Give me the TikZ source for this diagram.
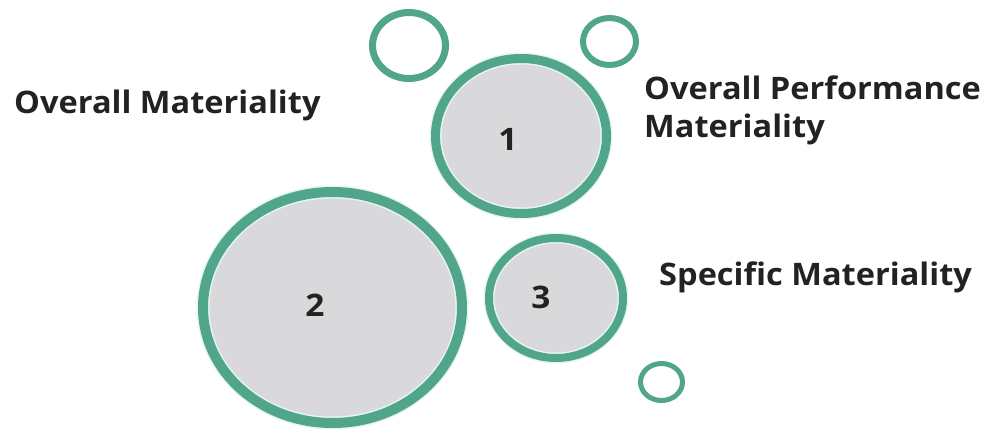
\documentclass[tikz,border=0pt]{standalone}
\usepackage{fontspec}
\setmainfont{Open Sans}
\usepackage{tikz}
\usetikzlibrary{shapes.geometric, positioning}

\definecolor{ringgreen}{RGB}{80,165,138}
\definecolor{ringhalo}{RGB}{228,246,241}
\definecolor{bubblegrey}{RGB}{217,217,219}
\definecolor{labelgrey}{RGB}{34,34,34}

\tikzset{
  ring/.style={ellipse, draw=ringgreen, inner sep=0pt, line width=#1},
  bubble/.style={ellipse, inner sep=0pt, fill=bubblegrey, draw=ringhalo,
    line width=#1+3pt, postaction={draw=ringgreen, line width=#1}},
  num/.style={font=\bfseries\fontsize{31}{31}\selectfont, text=labelgrey,
    inner sep=0pt, xscale=1.08, transform shape},
  caption/.style={font=\bfseries\fontsize{31}{31}\selectfont, text=labelgrey,
    anchor=base west, inner sep=0pt, xscale=1.05, transform shape}
}

\begin{document}
\begin{tikzpicture}[x=1pt,y=-1pt]
\useasboundingbox (0,0) rectangle (988,429);
% big bubbles
\node[bubble=9pt, minimum width=171pt, minimum height=155pt] (one) at (521,136) {};
\node[bubble=10pt, minimum width=259pt, minimum height=231pt] (two) at (332.5,307.5) {};
\node[bubble=8pt, minimum width=134pt, minimum height=120pt] (three) at (556,298) {};
% small empty rings
\node[ring=7pt, minimum width=73pt, minimum height=66pt] (dotA) at (409,45.5) {};
\node[ring=6pt, minimum width=53pt, minimum height=47pt] (dotB) at (609.5,41.5) {};
\node[ring=5pt, minimum width=42pt, minimum height=37pt] (dotC) at (661.5,382) {};
% numbers
\node[num] (n1) at (508,139) {1};
\node[num] (n2) at (315,305) {2};
\node[num] (n3) at (541,297) {3};
% labels
\node[caption] (overall) at (14,113) {Overall Materiality};
\node[caption] (perf) at (644,99) {Overall Performance};
\node[caption] (perf2) at (644,137) {Materiality};
\node[caption] (specific) at (659,285) {Specific Materiality};
\end{tikzpicture}
\end{document}
